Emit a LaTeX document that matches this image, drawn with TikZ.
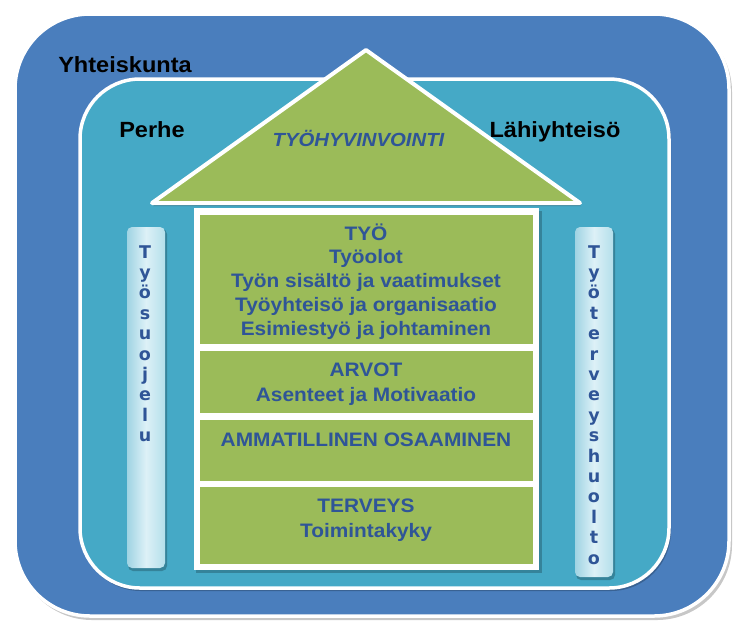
\documentclass[tikz,border=0pt]{standalone}
\usepackage{fontspec}
\setmainfont{Liberation Sans}[FakeStretch=1.07]
\newfontfamily\pilfont{DejaVu Sans}
\definecolor{outerblue}{HTML}{4A7EBD}
\definecolor{innerteal}{HTML}{45A9C6}
\definecolor{olivegreen}{HTML}{9BBB59}
\definecolor{txtblue}{HTML}{2F5597}
\definecolor{pilL}{HTML}{9FD3E3}
\definecolor{pilM}{HTML}{DDF1F7}
\definecolor{pilR}{HTML}{B4DFEB}
\begin{document}
\begin{tikzpicture}[x=1pt,y=-1pt,
  lbl/.style={font=\fontsize{22}{26}\selectfont\bfseries, text=black, inner sep=0pt, anchor=base},
  bodytxt/.style={font=\fontsize{19.5}{23.5}\selectfont\bfseries, text=txtblue, inner sep=0pt, anchor=base},
  rooftxt/.style={font=\fontsize{19}{23}\selectfont\bfseries\itshape, text=txtblue, inner sep=0pt, anchor=base},
  sect/.style={fill=olivegreen},
  pillar/.style={rounded corners=5pt, left color=pilL, right color=pilR, middle color=pilM},
  pilltxt/.style={font=\pilfont\fontsize{17.5}{20.4}\selectfont\bfseries, text=txtblue, inner sep=0pt, anchor=base},
  shadowc/.style={fill=black, opacity=0.22}]
\useasboundingbox (0,0) rectangle (733,622);
% outer society box
\fill[shadowc, rounded corners=75pt] (17,17) rectangle (732,620);
\draw[fill=outerblue, draw=white, line width=3.5pt, rounded corners=75pt] (15,14) rectangle (729,616);
% inner box
\fill[shadowc, rounded corners=60pt] (81,81) rectangle (671,591);
\draw[fill=innerteal, draw=white, line width=3.5pt, rounded corners=60pt] (80,79) rectangle (669,588);
% labels
\node[lbl] (soc) at (125,72) {Yhteiskunta};
\node[lbl] (fam) at (152,137) {Perhe};
\node[lbl] (loc) at (555,137) {Lähiyhteisö};
% roof
\fill[shadowc, line join=round] (153,206) -- (367,53) -- (581,206) -- cycle;
\draw[fill=olivegreen, draw=white, line width=4pt, line join=round] (152,203) -- (366,50) -- (580,203) -- cycle;
\node[rooftxt] (roof) at (358.5,146) {TYÖHYVINVOINTI};
% house body
\fill[shadowc] (196,211) rectangle (542,573);
\fill[white] (194,208) rectangle (539,570);
\fill[sect] (200,215) rectangle (533,344);
\fill[sect] (200,351) rectangle (533,413);
\fill[sect] (200,420) rectangle (533,481);
\fill[sect] (200,487) rectangle (533,564);
\node[bodytxt] (t1) at (366,240) {TYÖ};
\node[bodytxt] (t2) at (366,263.5) {Työolot};
\node[bodytxt] (t3) at (366,287.5) {Työn sisältö ja vaatimukset};
\node[bodytxt] (t4) at (366,311.5) {Työyhteisö ja organisaatio};
\node[bodytxt] (t5) at (366,335) {Esimiestyö ja johtaminen};
\node[bodytxt] (a1) at (366,376) {ARVOT};
\node[bodytxt] (a2) at (366,401) {Asenteet ja Motivaatio};
\node[bodytxt] (m1) at (366,446) {AMMATILLINEN OSAAMINEN};
\node[bodytxt] (h1) at (366,512) {TERVEYS};
\node[bodytxt] (h2) at (366,537) {Toimintakyky};
% pillars
\fill[shadowc, rounded corners=5pt] (128,229) rectangle (167,571);
\shade[pillar] (127,227) rectangle (165,568);
\fill[shadowc, rounded corners=5pt] (576,229) rectangle (615,580);
\shade[pillar] (575,227) rectangle (613,577);
\foreach \c [count=\i] in {T,y,ö,s,u,o,j,e,l,u}
  \node[pilltxt] (ls\i) at (145,{258+(\i-1)*20.4}) {\c};
\foreach \c [count=\i] in {T,y,ö,t,e,r,v,e,y,s,h,u,o,l,t,o}
  \node[pilltxt] (rs\i) at (594,{258+(\i-1)*20.4}) {\c};
\end{tikzpicture}
\end{document}
